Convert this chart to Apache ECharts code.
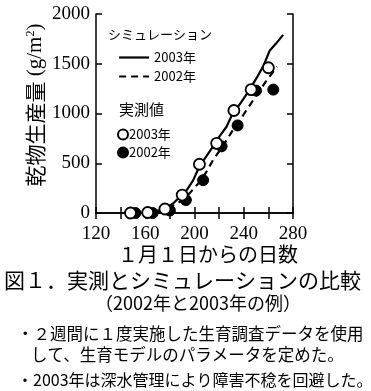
<!DOCTYPE html>
<html><head><meta charset="utf-8">
<script src="https://cdn.jsdelivr.net/npm/echarts@6/dist/echarts.min.js"></script>
<style>html,body{margin:0;padding:0;background:#fff}#c{width:371px;height:391px}</style>
</head><body><div id="c"></div>
<script>
// Simulation 2003 (solid): [day, g/m2]
const sim2003 = [[140,0],[155,0],[165,8],[172,30],[178,60],[183,100],[188,160],[194,235],[199,330],[204,470],[209,560],[215,667],[220,765],[226,867],[231,1000],[236,1080],[241,1170],[246,1265],[251,1370],[256,1480],[261,1630],[266,1700],[272,1790]];
// Simulation 2002 (dashed)
const sim2002 = [[140,0],[155,0],[165,5],[172,20],[178,45],[184,85],[189,120],[194,170],[199,240],[204,310],[209,400],[215,530],[220,620],[226,730],[231,830],[237,935],[242,1030],[248,1140],[253,1230],[259,1340],[264,1420],[267,1470]];
// Observed
const obsDays2003 = [148,162,176,190,204,218,232,246,260];
const obs2003 = [0,5,40,180,490,700,1030,1240,1460];
const obsDays2002 = [152,166,180,193,207,222,235,250,264];
const obs2002 = [0,0,25,130,330,670,880,1230,1240];
const xTicks = [120,160,200,240,280];
const yTicks = [0,500,1000,1500,2000];

const serif = '"Liberation Serif","DejaVu Serif",serif';
const jp = '"Noto Sans CJK JP","Noto Sans",sans-serif';
const names = {sim2003:'2003年', sim2002:'2002年', obs2003:'2003年', obs2002:'2002年'};

const chart = echarts.init(document.getElementById('c'), null, {renderer:'canvas'});
const axisCommon = {
  axisLine:{show:true, lineStyle:{color:'#000', width:1.5}},
  axisTick:{show:true, inside:true, length:6, lineStyle:{color:'#000', width:1.5}},
  splitLine:{show:false}
};
chart.setOption({
  animation:false,
  backgroundColor:'#fff',
  grid:{left:96, top:14, width:197, height:199},
  xAxis:[
    Object.assign({type:'value', min:120, max:280, interval:20, position:'bottom',
      axisLabel:{color:'#000', fontFamily:serif, fontSize:19, margin:12,
        formatter:v => xTicks.includes(v) ? String(v) : ''}}, axisCommon),
    Object.assign({type:'value', min:120, max:280, interval:20, position:'top',
      axisLabel:{show:false}}, axisCommon)
  ],
  yAxis:[
    Object.assign({type:'value', min:0, max:2000, interval:500, position:'left',
      axisLabel:{color:'#000', fontFamily:serif, fontSize:19, margin:6,
        formatter:v => yTicks.includes(v) ? String(v) : ''}}, axisCommon),
    Object.assign({type:'value', min:0, max:2000, interval:500, position:'right',
      axisLabel:{show:false}}, axisCommon)
  ],
  legend:[
    {data:['sim2003','sim2002'], orient:'vertical', left:113, top:46, itemWidth:30, itemHeight:14, itemGap:6,
      itemStyle:{opacity:0}, lineStyle:{width:2.2},
      formatter:n => names[n], textStyle:{fontFamily:jp, fontSize:13, color:'#000'}, selectedMode:false},
    {data:['obs2003','obs2002'], orient:'vertical', left:112, top:123, itemWidth:10, itemHeight:10, itemGap:5,
      formatter:n => names[n], textStyle:{fontFamily:jp, fontSize:13, color:'#000', padding:[0,0,0,-4]}, selectedMode:false}
  ],
  series:[
    {name:'sim2003', type:'line', data:sim2003, symbol:'none', smooth:false,
      lineStyle:{color:'#000', width:2.2, type:'solid'}, itemStyle:{color:'#000'}, z:2},
    {name:'sim2002', type:'line', data:sim2002, symbol:'none', smooth:false,
      lineStyle:{color:'#000', width:2.2, type:[7,5]}, itemStyle:{color:'#000'}, z:2},
    {name:'obs2002', type:'scatter', data:obsDays2002.map((d,i)=>[d,obs2002[i]]), symbol:'circle', symbolSize:11,
      itemStyle:{color:'#000', borderColor:'#000', borderWidth:1, opacity:1}, z:3},
    {name:'obs2003', type:'scatter', data:obsDays2003.map((d,i)=>[d,obs2003[i]]), symbol:'circle', symbolSize:11,
      itemStyle:{color:'#fff', borderColor:'#000', borderWidth:1.8, opacity:1}, z:4}
  ],
  graphic:[
    {type:'text', left:108, top:28, style:{text:'シミュレーション', font:'13px '+jp, fill:'#000'}},
    {type:'text', left:119, top:102, style:{text:'実測値', font:'15px '+jp, fill:'#000'}},
    {type:'text', x:35, y:105, rotation:Math.PI/2,
      style:{text:'{a|乾物生産量}{b| (g/m}{s|2}{b|)}', align:'center', verticalAlign:'middle',
        rich:{a:{font:'21px '+jp, fill:'#000'}, b:{font:'21px '+serif, fill:'#000'}, s:{font:'12px '+serif, fill:'#000', verticalAlign:'top'}}}},
    {type:'text', x:208, y:254, style:{text:'１月１日からの日数', font:'20px '+jp, fill:'#000', align:'center', verticalAlign:'middle'}},
    {type:'text', x:4, y:280, style:{text:'図１．実測とシミュレーションの比較', font:'21px '+jp, fill:'#000', align:'left', verticalAlign:'middle'}},
    {type:'text', x:198, y:303, style:{text:'（2002年と2003年の例）', font:'18px '+jp, fill:'#000', align:'center', verticalAlign:'middle'}},
    {type:'text', x:17, y:334, style:{text:'・２週間に１度実施した生育調査データを使用', font:'16.5px '+jp, fill:'#000', align:'left', verticalAlign:'middle'}},
    {type:'text', x:31, y:355, style:{text:'して、生育モデルのパラメータを定めた。', font:'16.5px '+jp, fill:'#000', align:'left', verticalAlign:'middle'}},
    {type:'text', x:17, y:380, style:{text:'・2003年は深水管理により障害不稔を回避した。', font:'16px '+jp, fill:'#000', align:'left', verticalAlign:'middle'}}
  ]
});
</script></body></html>
